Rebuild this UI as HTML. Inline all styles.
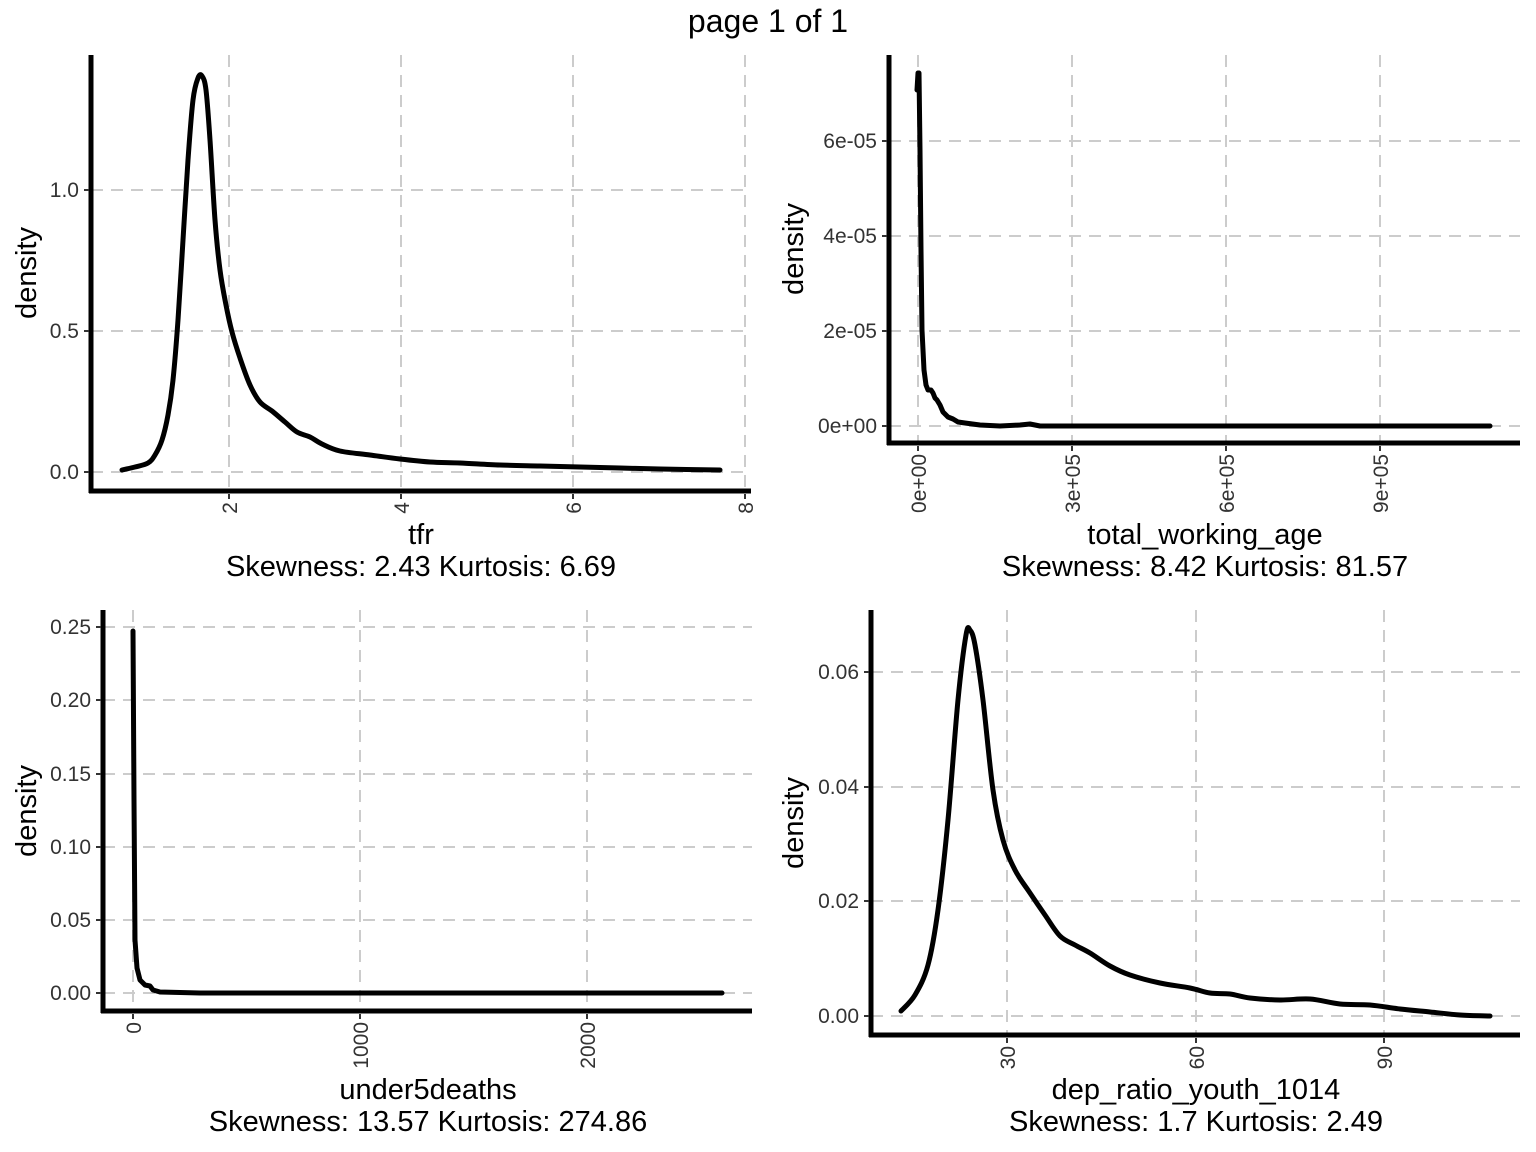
<!DOCTYPE html>
<html><head><meta charset="utf-8"><style>
html,body{margin:0;padding:0;background:#fff}
svg{display:block;font-family:"Liberation Sans",sans-serif}
.g{stroke:#cccccc;stroke-width:2;stroke-dasharray:12,8;fill:none}
.ax{stroke:#000;stroke-width:5;fill:none}
.tk{stroke:#333;stroke-width:2}
.c{stroke:#000;stroke-width:5;fill:none;stroke-linejoin:round;stroke-linecap:round}
.yl{font-size:21px;fill:#333;text-anchor:end}
.xl{font-size:21px;fill:#333;text-anchor:end}
.t{font-size:29px;fill:#000;text-anchor:middle}
</style></head><body>
<svg width="1536" height="1152" viewBox="0 0 1536 1152">
<text x="768" y="32" class="t" style="font-size:32px">page 1 of 1</text>

<!-- Panel 1 -->
<g>
<line class="g" x1="91" y1="472" x2="751" y2="472"/><line class="g" x1="91" y1="331" x2="751" y2="331"/><line class="g" x1="91" y1="190" x2="751" y2="190"/>
<line class="g" x1="229" y1="55" x2="229" y2="491"/><line class="g" x1="401" y1="55" x2="401" y2="491"/><line class="g" x1="573" y1="55" x2="573" y2="491"/><line class="g" x1="745" y1="55" x2="745" y2="491"/>
<polyline class="c s" points="122,470 135,467 148,463 155,455 162,440 168,415 173,380 178,320 183,240 188,160 193,100 198,78 202,76 206,90 210,140 215,220 220,270 226,305 232,332 240,358 250,385 260,402 272,411 285,422 297,432 310,437 322,444 340,451 370,455 400,459 430,462 460,463 500,465 540,466 580,467 620,468 660,469 720,470"/>
<line class="ax" x1="91" y1="55" x2="91" y2="493"/><line class="ax" x1="89" y1="491" x2="751" y2="491"/>
<line class="tk" x1="84" y1="472" x2="89" y2="472"/><line class="tk" x1="84" y1="331" x2="89" y2="331"/><line class="tk" x1="84" y1="190" x2="89" y2="190"/>
<line class="tk" x1="229" y1="494" x2="229" y2="499"/><line class="tk" x1="401" y1="494" x2="401" y2="499"/><line class="tk" x1="573" y1="494" x2="573" y2="499"/><line class="tk" x1="745" y1="494" x2="745" y2="499"/>
<text class="yl" x="79" y="479">0.0</text><text class="yl" x="79" y="338">0.5</text><text class="yl" x="79" y="197">1.0</text>
<text class="xl" transform="translate(237,502) rotate(-90)">2</text><text class="xl" transform="translate(409,502) rotate(-90)">4</text><text class="xl" transform="translate(581,502) rotate(-90)">6</text><text class="xl" transform="translate(753,502) rotate(-90)">8</text>
<text class="t" transform="translate(36,273) rotate(-90)">density</text>
<text class="t" x="421" y="544">tfr</text>
<text class="t" x="421" y="576">Skewness: 2.43 Kurtosis: 6.69</text>
</g>

<!-- Panel 2 -->
<g>
<line class="g" x1="889" y1="426" x2="1520" y2="426"/><line class="g" x1="889" y1="331" x2="1520" y2="331"/><line class="g" x1="889" y1="236" x2="1520" y2="236"/><line class="g" x1="889" y1="141" x2="1520" y2="141"/>
<line class="g" x1="918" y1="55" x2="918" y2="443"/><line class="g" x1="1072" y1="55" x2="1072" y2="443"/><line class="g" x1="1226" y1="55" x2="1226" y2="443"/><line class="g" x1="1380" y1="55" x2="1380" y2="443"/>
<polyline class="c" points="917,90 918,73 919,73 920,150 921,250 922,330 924,370 926,385 928,390 931,390 933,393 935,398 937,400 940,405 943,412 948,417 953,419 958,422 965,423 980,425 1000,426 1020,425 1030,424 1040,426 1490,426"/>
<line class="ax" x1="889" y1="55" x2="889" y2="445"/><line class="ax" x1="887" y1="443" x2="1520" y2="443"/>
<line class="tk" x1="882" y1="426" x2="887" y2="426"/><line class="tk" x1="882" y1="331" x2="887" y2="331"/><line class="tk" x1="882" y1="236" x2="887" y2="236"/><line class="tk" x1="882" y1="141" x2="887" y2="141"/>
<line class="tk" x1="918" y1="446" x2="918" y2="451"/><line class="tk" x1="1072" y1="446" x2="1072" y2="451"/><line class="tk" x1="1226" y1="446" x2="1226" y2="451"/><line class="tk" x1="1380" y1="446" x2="1380" y2="451"/>
<text class="yl" x="877" y="433">0e+00</text><text class="yl" x="877" y="338">2e-05</text><text class="yl" x="877" y="243">4e-05</text><text class="yl" x="877" y="148">6e-05</text>
<text class="xl" transform="translate(926,454) rotate(-90)">0e+00</text><text class="xl" transform="translate(1080,454) rotate(-90)">3e+05</text><text class="xl" transform="translate(1234,454) rotate(-90)">6e+05</text><text class="xl" transform="translate(1388,454) rotate(-90)">9e+05</text>
<text class="t" transform="translate(803,249) rotate(-90)">density</text>
<text class="t" x="1205" y="544">total_working_age</text>
<text class="t" x="1205" y="576">Skewness: 8.42 Kurtosis: 81.57</text>
</g>

<!-- Panel 3 -->
<g>
<line class="g" x1="103" y1="993" x2="752" y2="993"/><line class="g" x1="103" y1="920" x2="752" y2="920"/><line class="g" x1="103" y1="847" x2="752" y2="847"/><line class="g" x1="103" y1="774" x2="752" y2="774"/><line class="g" x1="103" y1="700" x2="752" y2="700"/><line class="g" x1="103" y1="627" x2="752" y2="627"/>
<line class="g" x1="133" y1="610" x2="133" y2="1011"/><line class="g" x1="360" y1="610" x2="360" y2="1011"/><line class="g" x1="587" y1="610" x2="587" y2="1011"/>
<polyline class="c" points="133,631 134,800 135,940 137,968 140,980 145,985 150,986 153,990 160,992 200,993 722,993"/>
<line class="ax" x1="103" y1="610" x2="103" y2="1013"/><line class="ax" x1="101" y1="1011" x2="752" y2="1011"/>
<line class="tk" x1="96" y1="993" x2="101" y2="993"/><line class="tk" x1="96" y1="920" x2="101" y2="920"/><line class="tk" x1="96" y1="847" x2="101" y2="847"/><line class="tk" x1="96" y1="774" x2="101" y2="774"/><line class="tk" x1="96" y1="700" x2="101" y2="700"/><line class="tk" x1="96" y1="627" x2="101" y2="627"/>
<line class="tk" x1="133" y1="1014" x2="133" y2="1019"/><line class="tk" x1="360" y1="1014" x2="360" y2="1019"/><line class="tk" x1="587" y1="1014" x2="587" y2="1019"/>
<text class="yl" x="91" y="1000">0.00</text><text class="yl" x="91" y="927">0.05</text><text class="yl" x="91" y="854">0.10</text><text class="yl" x="91" y="781">0.15</text><text class="yl" x="91" y="707">0.20</text><text class="yl" x="91" y="634">0.25</text>
<text class="xl" transform="translate(141,1022) rotate(-90)">0</text><text class="xl" transform="translate(368,1022) rotate(-90)">1000</text><text class="xl" transform="translate(595,1022) rotate(-90)">2000</text>
<text class="t" transform="translate(36,811) rotate(-90)">density</text>
<text class="t" x="428" y="1099">under5deaths</text>
<text class="t" x="428" y="1131">Skewness: 13.57 Kurtosis: 274.86</text>
</g>

<!-- Panel 4 -->
<g>
<line class="g" x1="871" y1="1016" x2="1520" y2="1016"/><line class="g" x1="871" y1="901" x2="1520" y2="901"/><line class="g" x1="871" y1="787" x2="1520" y2="787"/><line class="g" x1="871" y1="672" x2="1520" y2="672"/>
<line class="g" x1="1007" y1="610" x2="1007" y2="1035"/><line class="g" x1="1196" y1="610" x2="1196" y2="1035"/><line class="g" x1="1384" y1="610" x2="1384" y2="1035"/>
<polyline class="c s" points="901,1011 915,995 928,965 938,910 948,820 958,700 966,635 970,630 975,645 983,700 993,790 1003,840 1015,870 1030,893 1045,915 1060,936 1075,945 1090,953 1110,966 1130,975 1160,983 1190,988 1210,993 1230,994 1250,998 1280,1000 1310,999 1340,1004 1370,1005 1400,1009 1430,1012 1460,1015 1490,1016"/>
<line class="ax" x1="871" y1="610" x2="871" y2="1037"/><line class="ax" x1="869" y1="1035" x2="1520" y2="1035"/>
<line class="tk" x1="864" y1="1016" x2="869" y2="1016"/><line class="tk" x1="864" y1="901" x2="869" y2="901"/><line class="tk" x1="864" y1="787" x2="869" y2="787"/><line class="tk" x1="864" y1="672" x2="869" y2="672"/>
<line class="tk" x1="1007" y1="1038" x2="1007" y2="1043"/><line class="tk" x1="1196" y1="1038" x2="1196" y2="1043"/><line class="tk" x1="1384" y1="1038" x2="1384" y2="1043"/>
<text class="yl" x="859" y="1023">0.00</text><text class="yl" x="859" y="908">0.02</text><text class="yl" x="859" y="794">0.04</text><text class="yl" x="859" y="679">0.06</text>
<text class="xl" transform="translate(1015,1046) rotate(-90)">30</text><text class="xl" transform="translate(1204,1046) rotate(-90)">60</text><text class="xl" transform="translate(1392,1046) rotate(-90)">90</text>
<text class="t" transform="translate(803,823) rotate(-90)">density</text>
<text class="t" x="1196" y="1099">dep_ratio_youth_1014</text>
<text class="t" x="1196" y="1131">Skewness: 1.7 Kurtosis: 2.49</text>
</g>
</svg>
<script>
document.querySelectorAll('polyline.s').forEach(function(pl){
  var p=pl.getAttribute('points').trim().split(/\s+/).map(function(s){return s.split(',').map(Number);});
  var d='M'+p[0][0]+','+p[0][1];
  for(var i=0;i<p.length-1;i++){
    var p0=p[i-1]||p[i],p1=p[i],p2=p[i+1],p3=p[i+2]||p2;
    var c1x=p1[0]+(p2[0]-p0[0])/6,c1y=p1[1]+(p2[1]-p0[1])/6;
    var c2x=p2[0]-(p3[0]-p1[0])/6,c2y=p2[1]-(p3[1]-p1[1])/6;
    d+=' C'+c1x+','+c1y+' '+c2x+','+c2y+' '+p2[0]+','+p2[1];
  }
  var path=document.createElementNS('http://www.w3.org/2000/svg','path');
  path.setAttribute('d',d);path.setAttribute('class','c');
  pl.parentNode.replaceChild(path,pl);
});
</script>
</body></html>
